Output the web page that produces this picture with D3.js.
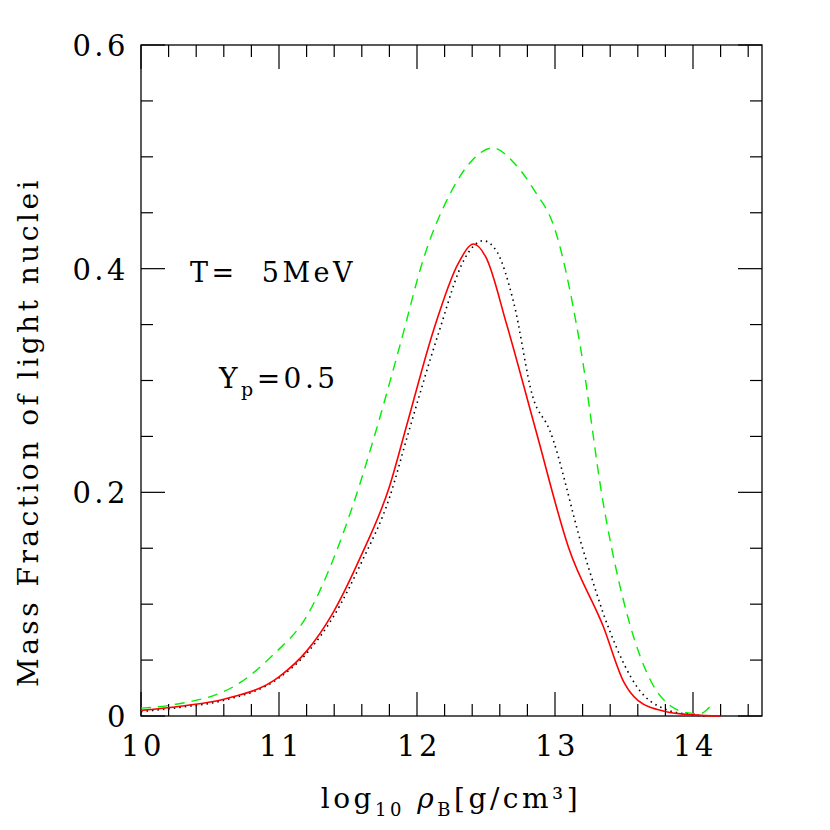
<!DOCTYPE html>
<html><head><meta charset="utf-8">
<script src="https://cdn.jsdelivr.net/npm/d3@7"></script>
<style>body{margin:0;background:#fff}text{font-family:"DejaVu Serif",serif;letter-spacing:3.5px}</style>
</head><body><div id="chart"></div>
<script>
// curves: [log10 rho, mass fraction]
var redSolid = [[10,0.005],[10.3,0.009],[10.6,0.015],[11,0.035],[11.2,0.058],[11.39,0.092],[11.59,0.142],[11.8,0.205],[11.93,0.262],[12.12,0.345],[12.3,0.405],[12.41,0.422],[12.5,0.41],[12.65,0.35],[12.86,0.256],[13.1,0.15],[13.35,0.08],[13.5,0.03],[13.6,0.014],[13.8,0.004],[14,0.001],[14.2,0.0]];
var blackDotted = [[10,0.004],[10.3,0.008],[10.6,0.014],[11,0.034],[11.2,0.056],[11.4,0.09],[11.6,0.138],[11.8,0.195],[11.93,0.25],[12.15,0.34],[12.35,0.41],[12.48,0.425],[12.58,0.415],[12.7,0.37],[12.84,0.285],[12.96,0.256],[13.2,0.15],[13.4,0.075],[13.6,0.025],[13.8,0.006],[14,0.001],[14.1,0.0]];
var greenDashed = [[10,0.007],[10.23,0.01],[10.72,0.03],[10.96,0.055],[11.2,0.089],[11.37,0.133],[11.54,0.19],[11.71,0.258],[11.88,0.333],[12.05,0.41],[12.24,0.467],[12.4,0.497],[12.55,0.508],[12.7,0.495],[12.85,0.47],[13,0.435],[13.18,0.333],[13.35,0.19],[13.54,0.083],[13.7,0.03],[13.85,0.008],[13.95,0.003],[14.05,0.002],[14.12,0.008]];
var xTicks = [10,11,12,13,14];
var yTicks = [0,0.2,0.4,0.6];

var width = 830, height = 830;
var margin = {'top':45,'bottom':114,'left':141,'right':68};
var svg = d3.select('#chart').append('svg').attr('width',width).attr('height',height);

var x = d3.scaleLinear().domain([10,14.5]).range([margin.left, width-margin.right]);
var y = d3.scaleLinear().domain([0,0.6]).range([height-margin.bottom, margin.top]);

svg.append('rect').attr('x',x(10)).attr('y',y(0.6)).attr('width',x(14.5)-x(10)).attr('height',y(0)-y(0.6))
	.attr('fill','none').attr('stroke','black').attr('stroke-width',1.3);

// inward ticks on all sides
var tk = svg.append('g').attr('stroke','black').attr('stroke-width',1.2);
d3.range(10,14.5001,0.2).forEach(function(v){
	var L = Math.abs(v-Math.round(v))<1e-6 ? 24 : 12;
	tk.append('line').attr('x1',x(v)).attr('x2',x(v)).attr('y1',y(0)).attr('y2',y(0)-L);
	tk.append('line').attr('x1',x(v)).attr('x2',x(v)).attr('y1',y(0.6)).attr('y2',y(0.6)+L);
});
d3.range(0,0.6001,0.05).forEach(function(v){
	var L = Math.abs(v/0.2-Math.round(v/0.2))<1e-6 ? 24 : 12;
	tk.append('line').attr('y1',y(v)).attr('y2',y(v)).attr('x1',x(10)).attr('x2',x(10)+L);
	tk.append('line').attr('y1',y(v)).attr('y2',y(v)).attr('x1',x(14.5)).attr('x2',x(14.5)-L);
});

svg.selectAll('.xt').data(xTicks).enter().append('text')
	.attr('x',d=>x(d)+2).attr('y',y(0)+40).attr('text-anchor','middle').attr('font-size',29).text(d=>d);
svg.selectAll('.yt').data(yTicks).enter().append('text')
	.attr('x',x(10)-12).attr('y',d=>y(d)+11).attr('text-anchor','end').attr('font-size',29).text(d=>d===0?'0':d.toFixed(1));

var line = d3.line().x(d=>x(d[0])).y(d=>y(d[1])).curve(d3.curveMonotoneX);
var g = svg.append('g').attr('fill','none');
g.append('path').datum(greenDashed).attr('d',line).attr('stroke','#00ee00').attr('stroke-width',1.4).attr('stroke-dasharray','10,7');
g.append('path').datum(blackDotted).attr('d',line).attr('stroke','black').attr('stroke-width',1.6).attr('stroke-dasharray','1.5,4');
g.append('path').datum(redSolid).attr('d',line).attr('stroke','red').attr('stroke-width',1.6);

svg.append('text').attr('x',190).attr('y',282).attr('font-size',27).text('T=\u00a0 5MeV');
var yp = svg.append('text').attr('x',219).attr('y',388).attr('font-size',28);
yp.append('tspan').text('Y');
yp.append('tspan').attr('font-size',19).attr('dy',8).text('p');
yp.append('tspan').attr('dy',-8).text('=0.5');

var xl = svg.append('text').attr('x',451).attr('y',808).attr('text-anchor','middle').attr('font-size',28);
xl.append('tspan').text('log');
xl.append('tspan').attr('font-size',18).attr('dy',8).text('10');
xl.append('tspan').attr('dy',-8).attr('font-style','italic').text(' ρ');
xl.append('tspan').attr('font-size',18).attr('dy',8).text('B');
xl.append('tspan').attr('dy',-8).text('[g/cm³]');

svg.append('text').attr('transform','translate(38,432) rotate(-90)').attr('text-anchor','middle')
	.attr('font-size',28).attr('letter-spacing','5px').text('Mass Fraction of light nuclei');
</script></body></html>
